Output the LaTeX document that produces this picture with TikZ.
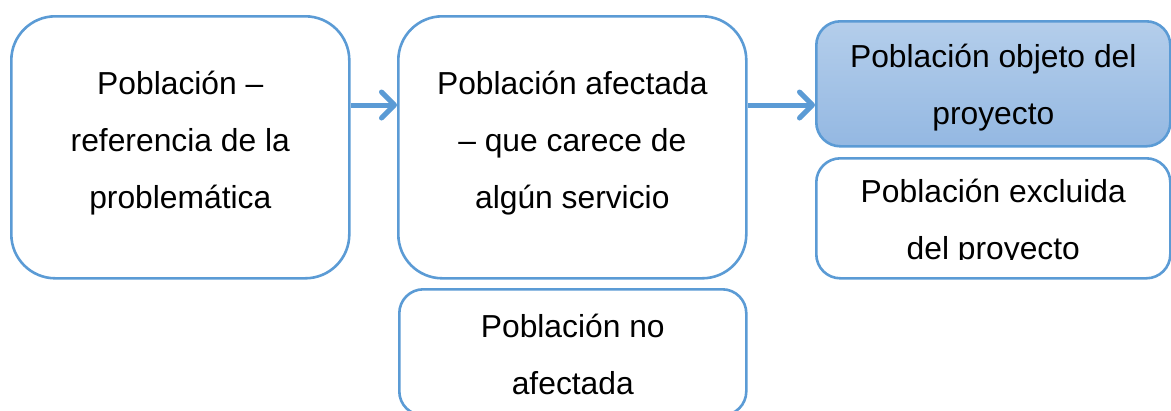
\documentclass[tikz,border=0pt]{standalone}
\usepackage{fontspec}
\setmainfont{Liberation Sans}
\usetikzlibrary{arrows.meta}
\definecolor{bord}{HTML}{5B9BD5}
\definecolor{gtop}{HTML}{B4CEEB}
\definecolor{gbot}{HTML}{94B8E2}
\tikzset{
  txtfont/.style={font=\fontsize{31.8}{57}\selectfont, align=center, text=black, inner sep=0pt},
  box/.style={draw=bord, line width=2.6pt, rounded corners=44pt, fill=white, inner sep=0pt, anchor=north west},
  sbox/.style={draw=bord, line width=2.6pt, rounded corners=24pt, fill=white, inner sep=0pt, anchor=north west},
  conn/.style={draw=bord, line width=5pt, -{Straight Barb[length=13pt,width=26pt,round]}},
}
\begin{document}
\begin{tikzpicture}[x=1pt,y=-1pt]
\useasboundingbox (0,0) rectangle (1171,410);
\node[box, minimum width=338pt, minimum height=262pt] (b1) at (10,15) {};
\node[txtfont] (b1t) at ([yshift=4pt]b1.center) {Población –\\referencia de la\\problemática};
\node[box, minimum width=348pt, minimum height=262pt] (b2) at (397,15) {};
\node[txtfont] (b2t) at ([yshift=4pt]b2.center) {Población afectada\\– que carece de\\algún servicio};
\node[sbox, minimum width=354pt, minimum height=125pt, fill=none, top color=gtop, bottom color=gbot] (b3) at (815,20) {};
\node[txtfont] (b3t) at ([yshift=-4pt]b3.center) {Población objeto del\\proyecto};
\node[sbox, minimum width=354pt, minimum height=120pt] (b4) at (815,157) {};
\begin{scope}
  \clip (815,150) rectangle (1171,259);
  \node[txtfont] (b4t) at ([yshift=-4pt]b4.center) {Población excluida\\del proyecto};
\end{scope}
\node[sbox, minimum width=347pt, minimum height=126pt] (b5) at (398,288) {};
\node[txtfont] (b5t) at ([yshift=-2pt]b5.center) {Población no\\afectada};
\draw[conn] (b1.east |- 0,105) -- (b2.west |- 0,105);
\draw[conn] (b2.east |- 0,105) -- (b3.west |- 0,105);
\end{tikzpicture}
\end{document}
